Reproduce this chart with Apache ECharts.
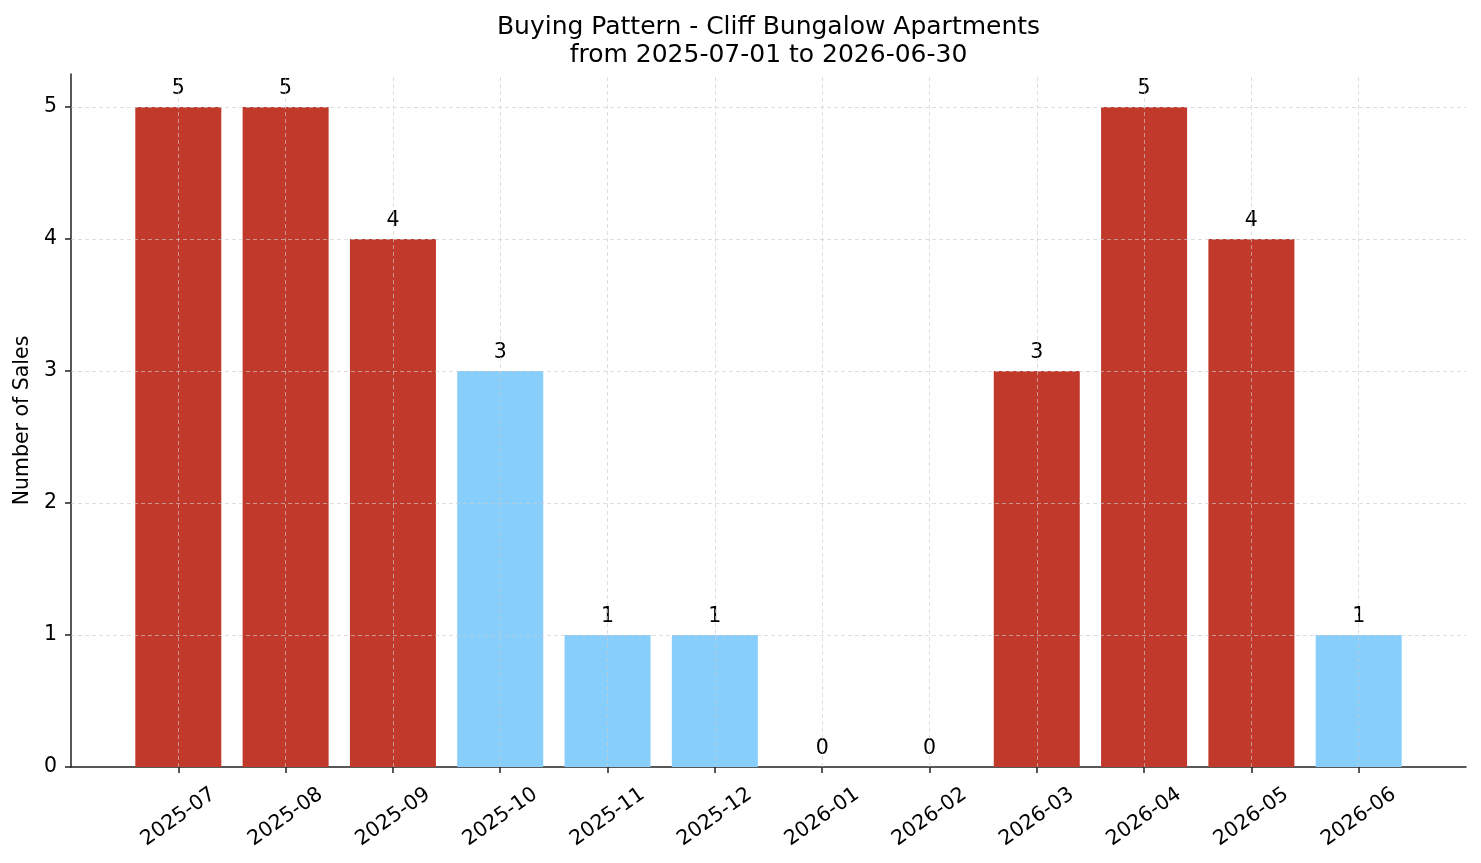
<!DOCTYPE html>
<html>
<head>
<meta charset="utf-8">
<script src="https://cdn.jsdelivr.net/npm/echarts@6/dist/echarts.min.js"></script>
<style>
html,body{margin:0;padding:0;background:#fff;}
#chart{width:1481px;height:863px;}
</style>
</head>
<body>
<div id="chart"></div>
<script>
// ---- data ----
const months = ['2025-07','2025-08','2025-09','2025-10','2025-11','2025-12','2026-01','2026-02','2026-03','2026-04','2026-05','2026-06'];
const sales = [5, 5, 4, 3, 1, 1, 0, 0, 3, 5, 4, 1];
const peakMonth = [true, true, true, false, false, false, false, false, true, true, true, false];
const yTicks = [0, 1, 2, 3, 4, 5];
const titleLines = ['Buying Pattern - Cliff Bungalow Apartments', 'from 2025-07-01 to 2026-06-30'];
const yAxisTitle = 'Number of Sales';

// ---- styling ----
const RED = '#C0392B';
const BLUE = '#87CEFA';
const FONT = 'DejaVu Sans';
const FS = 20.5;
const GRID = { left: 71, right: 15, top: 74, bottom: 96 };

const chart = echarts.init(document.getElementById('chart'), null, { renderer: 'canvas' });

// pad the category axis with one empty slot on each side (matplotlib-like x margins)
const cats = [''].concat(months, ['']);
const barData = ['-'].concat(sales.map((v, i) => ({
  value: v,
  itemStyle: { color: peakMonth[i] ? RED : BLUE }
})), ['-']);

const gridLineStyle = { color: 'rgba(205,205,205,0.8)', type: [4, 3], width: 0.8 };
const markData = yTicks.filter(v => v > 0).map(v => ({ yAxis: v }))
  .concat(months.map(m => ({ xAxis: m })));

const plotCenter = GRID.left + (1481 - GRID.left - GRID.right) / 2;

chart.setOption({
  animation: false,
  backgroundColor: '#fff',
  textStyle: { fontFamily: FONT },
  title: {
    text: titleLines.join('\n'),
    left: plotCenter - 5,
    textAlign: 'center',
    top: 8,
    textStyle: { fontFamily: FONT, fontSize: 25, fontWeight: 'normal', color: '#000', lineHeight: 28 }
  },
  grid: GRID,
  xAxis: {
    type: 'category',
    data: cats,
    boundaryGap: false,
    axisLine: { lineStyle: { color: '#222', width: 1.5 } },
    axisTick: { show: true, length: 6, lineStyle: { color: '#222', width: 1.5 }, interval: (i, v) => v !== '' },
    axisLabel: {
      interval: 0,
      rotate: 35,
      align: 'center',
      verticalAlign: 'middle',
      margin: 50,
      fontFamily: FONT,
      fontSize: FS,
      color: '#000'
    },
    splitLine: { show: false }
  },
  yAxis: {
    type: 'value',
    min: 0,
    max: 5.25,
    interval: 1,
    name: yAxisTitle,
    nameLocation: 'middle',
    nameGap: 37,
    nameTextStyle: { fontFamily: FONT, fontSize: FS, color: '#000' },
    axisLine: { show: true, lineStyle: { color: '#222', width: 1.5 } },
    axisTick: { show: true, length: 6, lineStyle: { color: '#222', width: 1.5 }, customValues: yTicks },
    axisLabel: { fontFamily: FONT, fontSize: FS, color: '#000', margin: 14, customValues: yTicks },
    splitLine: { show: false }
  },
  series: [{
    type: 'bar',
    data: barData,
    barWidth: 86,
    label: {
      show: true,
      position: 'top',
      distance: 8,
      fontFamily: FONT,
      fontSize: FS,
      color: '#000'
    },
    markLine: {
      silent: true,
      symbol: 'none',
      label: { show: false },
      lineStyle: gridLineStyle,
      emphasis: { disabled: true },
      data: markData
    }
  }]
});
</script>
</body>
</html>
